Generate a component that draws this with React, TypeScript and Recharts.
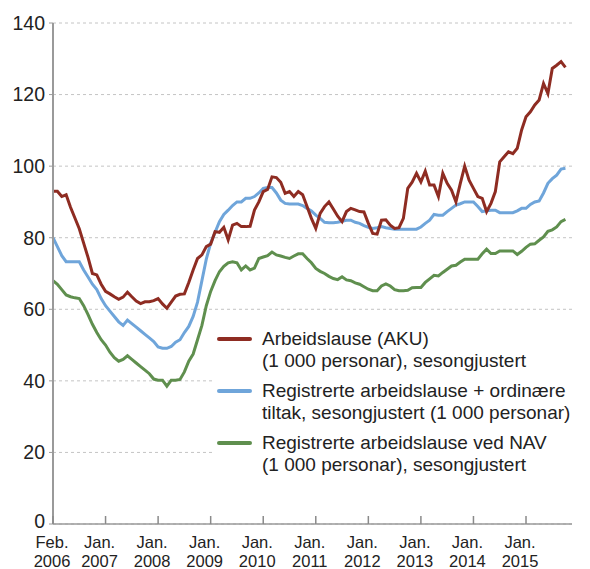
import { LineChart, Line, XAxis, YAxis, CartesianGrid } from 'recharts';

// monthly values, first point = Feb. 2006 (1 000 personar)
const aku = [
  93, 93, 91.5, 92, 88.5, 85.5, 82.5, 78.5, 74.5, 70, 69.6, 67,
  65, 64.3, 63.5, 62.8, 63.4, 64.8, 63.5, 62.3, 61.6, 62.1, 62.1, 62.4,
  63, 61.5, 60.3, 62, 63.7, 64.2, 64.3, 67.5, 71, 74.2, 75.2, 77.5,
  78.2, 81.7, 81.5, 82.9, 79.4, 83.5, 84, 83.1, 83.1, 83.2, 87.7, 90,
  92.9, 93.5, 97, 96.8, 95.5, 92.4, 92.9, 91.5, 92.9, 92, 88.7, 85.4,
  82.6, 86.8, 88.7, 90, 88, 86, 84.5, 87.3, 88.2, 87.8, 87.3, 87.2,
  84, 81.2, 81, 84.9, 85, 83.5, 82.6, 82.8, 85.4, 93.8, 95.5, 98,
  95.6, 98.6, 94.7, 94.7, 91.5, 98, 95.2, 93.3, 90, 95.2, 100, 96.1,
  93.8, 91.5, 91, 87.3, 89.6, 92.9, 101.2, 102.6, 104, 103.5, 105, 110.1,
  113.8, 115.2, 117.1, 118.5, 123.1, 120.3, 127.3, 128.2, 129.2, 127.6,
];

const registrerteTiltak = [
  80, 77.5, 75, 73.3, 73.3, 73.3, 73.3, 71, 69, 67, 65.5, 63,
  61, 59.5, 58, 56.5, 55.5, 57, 56, 55, 54, 53, 52, 51,
  49.5, 49.1, 49.1, 49.6, 50.8, 51.5, 53.5, 55.2, 58, 62, 68, 74,
  78.5, 81.5, 84.5, 86.5, 87.7, 89, 90, 90, 91, 91, 91.5, 92.5,
  93.8, 94, 94, 92.5, 90.5, 89.6, 89.4, 89.4, 89.4, 89, 88.2, 87.5,
  86.3, 85.4, 84.3, 84.2, 84.2, 84.3, 84.6, 84.9, 84.9, 84.3, 84, 83.4,
  82.9, 82.6, 82.8, 83.1, 82.8, 82.6, 82.4, 82.4, 82.4, 82.4, 82.4, 82.4,
  83, 84, 84.9, 86.5, 86.3, 86.3, 87.3, 88.2, 89.1, 89.5, 90, 90,
  90, 88.7, 87.3, 87.5, 87.7, 87.7, 87, 87, 87, 87, 87.5, 88.2,
  88.2, 89.3, 90, 90.3, 92.5, 95.2, 96.5, 97.5, 99.2, 99.4,
];

const registrerteNav = [
  68, 67, 65.5, 64, 63.5, 63.2, 63, 61, 58.5, 55.8, 53.5, 51.5,
  50, 48, 46.5, 45.5, 46, 47, 46, 45, 44, 43, 42, 40.5,
  40.2, 40.2, 38.5, 40.2, 40.2, 40.4, 42.5, 45.5, 47.5, 51.5, 55.5, 61,
  65, 68, 70.5, 72, 73, 73.3, 73, 71, 72.1, 71, 71.5, 74.2,
  74.6, 75, 76, 75.2, 74.9, 74.5, 74.2, 74.9, 75.5, 75.5, 74.2, 73,
  71.4, 70.6, 70, 69.2, 68.6, 68.3, 69.1, 68.2, 68, 67.4, 67, 66.3,
  65.6, 65.2, 65.2, 66.5, 67.1, 66.5, 65.5, 65.2, 65.2, 65.3, 66, 66.1,
  66.1, 67.5, 68.5, 69.5, 69.3, 70.3, 71.2, 72.1, 72.3, 73.2, 74, 74,
  74, 74, 75.5, 76.8, 75.6, 75.6, 76.3, 76.3, 76.3, 76.3, 75.3, 76.2,
  77.3, 78.2, 78.3, 79.3, 80.2, 81.8, 82.2, 83, 84.5, 85.1,
];

const xTicks = [0, 12, 24, 36, 48, 60, 72, 84, 96, 108];
const xTickMonths = ['Feb.', 'Jan.', 'Jan.', 'Jan.', 'Jan.', 'Jan.', 'Jan.', 'Jan.', 'Jan.', 'Jan.'];
const xTickYears = ['2006', '2007', '2008', '2009', '2010', '2011', '2012', '2013', '2014', '2015'];
const yTicks = [0, 20, 40, 60, 80, 100, 120, 140];

const series = [
  { key: 'aku', color: '#8e2c22', lines: ['Arbeidslause (AKU)', '(1 000 personar), sesongjustert'] },
  { key: 'tiltak', color: '#6fa5da', lines: ['Registrerte arbeidslause + ordinære', 'tiltak, sesongjustert (1 000 personar)'] },
  { key: 'nav', color: '#5f8f4e', lines: ['Registrerte arbeidslause ved NAV', '(1 000 personar), sesongjustert'] },
];

const data = aku.map((v, i) => ({
  t: i,
  aku: v,
  tiltak: registrerteTiltak[i],
  nav: registrerteNav[i],
}));

const FONT = '"Liberation Sans", Arial, sans-serif';

function MonthTick(props: any) {
  const { x, y, payload, index } = props;
  const i = xTicks.indexOf(payload.value);
  const tx = x + (index === 0 ? -1 : -6);
  return (
    <g>
      <line x1={x} x2={x} y1={y - 8} y2={y} stroke="#8a8a8a" strokeWidth={1.5} />
      <text x={tx} y={y + 24} textAnchor="middle" fontSize={16.5} fill="#222" fontFamily={FONT}>
        <tspan x={tx}>{xTickMonths[i]}</tspan>
        <tspan x={tx} dy={18.5}>{xTickYears[i]}</tspan>
      </text>
    </g>
  );
}

function ValueTick(props: any) {
  const { x, y, payload } = props;
  // lift the "0" a little so it clears the month label below it
  const shift = payload.value === 0 ? -3 : 0;
  return (
    <text x={x} y={y + shift} dy="0.355em" textAnchor="end" fontSize={19.5} fill="#222" fontFamily={FONT}>
      {payload.value}
    </text>
  );
}

function ChartLegend() {
  return (
    <div
      style={{
        position: 'absolute',
        left: 213,
        top: 322,
        width: 377,
        height: 156,
        background: '#fff',
        paddingTop: 6,
        boxSizing: 'border-box',
        fontFamily: FONT,
        fontSize: 19,
        lineHeight: '22px',
        color: '#222',
      }}
    >
      {series.map((s) => (
        <div key={s.key} style={{ display: 'flex', alignItems: 'flex-start', marginBottom: 8 }}>
          <div style={{ width: 35, height: 4, background: s.color, marginTop: 9, marginLeft: 4, borderRadius: 2 }} />
          <div style={{ marginLeft: 10, whiteSpace: 'nowrap' }}>
            {s.lines.map((l) => (
              <div key={l}>{l}</div>
            ))}
          </div>
        </div>
      ))}
    </div>
  );
}

export default function App() {
  return (
    <div style={{ position: 'absolute', left: 0, top: 0, width: 590, height: 569, background: '#fff' }}>
      <LineChart width={590} height={569} data={data} margin={{ top: 23, right: 18, left: 0, bottom: 0 }}>
        <CartesianGrid vertical={false} strokeDasharray="3 3" stroke="#c4c4c4" />
        <XAxis
          dataKey="t"
          type="number"
          domain={[0, 118.5]}
          ticks={xTicks}
          interval={0}
          height={45}
          tickSize={0}
          tickMargin={0}
          tickLine={false}
          tick={<MonthTick />}
          axisLine={{ stroke: '#9a9a9a', strokeWidth: 1.5 }}
        />
        <YAxis
          domain={[0, 140]}
          ticks={yTicks}
          interval={0}
          width={53}
          tickSize={4}
          tickMargin={4}
          tickLine={{ stroke: '#9a9a9a' }}
          axisLine={{ stroke: '#9a9a9a', strokeWidth: 2 }}
          tick={<ValueTick />}
        />
        <Line type="linear" dataKey="nav" stroke={series[2].color} strokeWidth={3} dot={false} isAnimationActive={false} />
        <Line type="linear" dataKey="tiltak" stroke={series[1].color} strokeWidth={3} dot={false} isAnimationActive={false} />
        <Line type="linear" dataKey="aku" stroke={series[0].color} strokeWidth={3} dot={false} isAnimationActive={false} />
      </LineChart>
      <ChartLegend />
    </div>
  );
}
